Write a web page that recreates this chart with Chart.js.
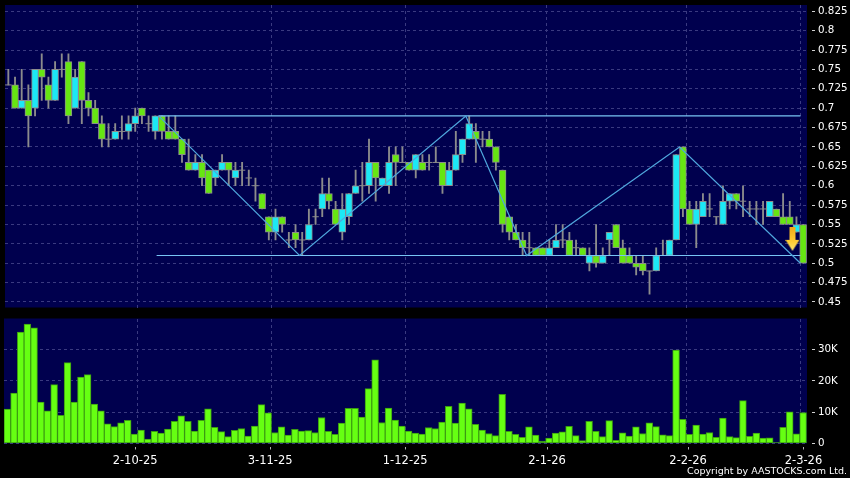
<!DOCTYPE html>
<html>
<head>
<meta charset="utf-8">
<title>AASTOCKS chart</title>
<script src="https://cdn.jsdelivr.net/npm/chart.js@4/dist/chart.umd.min.js"></script>
<style>
  html, body { margin: 0; padding: 0; background: #000; width: 850px; height: 478px; overflow: hidden; }
  canvas { position: absolute; left: 0; }
  #priceChart { top: 0; }
  #volChart { top: 316px; }
  #copyright { position: absolute; right: 3px; top: 464px; color: #fff; font: 9.5px "DejaVu Sans", sans-serif; line-height: 13px; white-space: nowrap; }
</style>
</head>
<body>
<canvas id="priceChart" width="850" height="316"></canvas>
<canvas id="volChart" width="850" height="162"></canvas>
<div id="copyright">Copyright by AASTOCKS.com Ltd.</div>
<script>
// values, one entry per trading day
const opens = [
  .73,.73,.70,.71,.70,.75,.73,.71,.75,.76,.70,.76,.71,.70,.68,.66,.66,.67,.67,.68,
  .70,.68,.67,.69,.67,.67,.66,.63,.62,.63,.62,.61,.62,.63,.61,.62,.61,.60,.59,.56,
  .54,.56,.53,.54,.53,.53,.56,.57,.59,.57,.54,.56,.59,.60,.60,.63,.60,.60,.64,.63,
  .63,.62,.63,.63,.63,.63,.60,.62,.64,.66,.67,.66,.66,.65,.62,.56,.54,.53,.52,.52,
  .52,.51,.52,.53,.53,.52,.52,.50,.51,.50,.53,.55,.52,.51,.50,.50,.49,.49,.51,.51,
  .53,.65,.57,.55,.56,.57,.56,.55,.58,.59,.58,.57,.57,.57,.56,.57,.56,.56,.54,.55
];
const highs = [
  .75,.74,.75,.73,.75,.77,.74,.76,.77,.77,.75,.76,.72,.71,.69,.68,.68,.69,.69,.70,
  .70,.69,.69,.69,.69,.69,.66,.66,.64,.64,.62,.62,.64,.63,.63,.63,.62,.61,.59,.56,
  .57,.56,.54,.55,.54,.57,.57,.61,.61,.58,.59,.59,.62,.63,.66,.63,.61,.65,.65,.65,
  .63,.64,.64,.64,.65,.63,.63,.67,.66,.69,.68,.67,.67,.65,.62,.56,.55,.54,.54,.52,
  .52,.53,.55,.55,.54,.53,.52,.52,.55,.52,.54,.55,.53,.52,.51,.51,.49,.52,.53,.53,
  .64,.65,.58,.58,.59,.59,.56,.60,.59,.59,.60,.58,.58,.58,.58,.57,.59,.58,.56,.55
];
const lows = [
  .73,.70,.70,.65,.69,.71,.70,.71,.74,.68,.70,.68,.69,.68,.65,.65,.66,.66,.66,.67,
  .68,.67,.66,.66,.66,.66,.63,.62,.62,.60,.59,.60,.62,.60,.60,.60,.60,.58,.57,.53,
  .53,.54,.52,.52,.51,.53,.55,.56,.57,.55,.53,.55,.59,.58,.59,.58,.60,.59,.60,.63,
  .62,.61,.62,.62,.63,.59,.60,.62,.63,.66,.63,.65,.65,.62,.54,.53,.53,.51,.51,.51,
  .51,.51,.52,.52,.51,.51,.51,.49,.495,.50,.51,.52,.50,.50,.485,.485,.46,.49,.51,.51,
  .53,.56,.55,.52,.56,.56,.55,.55,.57,.57,.56,.56,.55,.55,.56,.56,.55,.55,.54,.50
];
const closes = [
  .73,.70,.71,.69,.75,.74,.71,.75,.75,.69,.74,.71,.70,.68,.66,.66,.67,.67,.68,.69,
  .69,.68,.69,.67,.66,.66,.64,.62,.63,.61,.59,.62,.63,.62,.62,.62,.61,.60,.57,.54,
  .56,.55,.53,.53,.53,.55,.56,.59,.58,.55,.57,.59,.60,.60,.63,.61,.61,.63,.63,.63,
  .62,.64,.62,.63,.63,.60,.62,.64,.66,.68,.66,.66,.65,.63,.55,.54,.53,.52,.52,.51,
  .51,.52,.53,.53,.51,.52,.51,.51,.50,.51,.54,.52,.50,.50,.495,.49,.49,.51,.51,.53,
  .64,.57,.55,.57,.58,.57,.56,.58,.59,.58,.58,.57,.57,.57,.58,.56,.55,.55,.55,.50
];
const volumes = [
  11000,16100,35600,38100,36900,13200,10400,18800,9000,25800,13200,21200,22000,12600,10400,6300,5400,6600,7400,3000,
  4300,1400,3900,3300,4600,7100,8800,7100,4000,7400,11100,5200,3800,2200,4200,4800,2400,5600,12400,9800,
  3500,5300,2700,4500,4000,4100,3500,8300,3900,2900,6500,11200,11200,8400,17500,26700,6700,11300,7500,5600,
  4000,3300,3000,5100,4800,6800,11900,6500,12900,11100,6100,4300,3200,2500,15700,3900,2900,2000,5300,2700,
  800,1700,3300,3700,5500,2500,900,7100,3900,2200,7300,1000,3400,2400,5300,3200,6600,5400,2800,2500,
  29800,7700,2900,5900,3000,3500,2000,8100,2200,1900,13700,2300,3300,1700,1800,300,5200,10100,3100,9900
];

const tickLabels = ["2-10-25", "3-11-25", "1-12-25", "2-1-26", "2-2-26", "2-3-26"];
const tickDays = [19.1, 39.3, 59.5, 80.7, 101.8, 119.05];
const gridDays = [19.4, 39.45, 59.5, 80.6, 101.6, 118.6];
const priceTicks = [.45,.475,.5,.525,.55,.575,.6,.625,.65,.675,.7,.725,.75,.775,.8,.825];
const volTicks = [0, 10000, 20000, 30000];

// trend lines drawn on the chart, as [day, price]
const zigzag = [[22.5,.69],[43.6,.51],[68.5,.69],[77.6,.51],[100.5,.65],[118.6,.50]];
const topLine = [[22.5,.69],[118.6,.69]];
const bottomLine = [[22.2,.51],[118.6,.51]];
const arrowAt = [117.4, .5315];

const UP = "#1ce8f5", DOWN = "#66e612", EDGE = "#8c8c8c";
const NAVY = "#00004e", GRID = "#3a3a80";
const FONT = '"DejaVu Sans", sans-serif';
const days = closes.map((_, i) => i);

// navy panel behind the plot area
const panelBg = {
  id: "panelBg",
  beforeDraw(chart) {
    const { ctx, chartArea: a } = chart;
    ctx.fillStyle = NAVY;
    ctx.fillRect(a.left, a.top, a.right - a.left, a.bottom - a.top);
  },
};

function xy(pairs) {
  return pairs.map((p) => ({ x: p[0], y: p[1] }));
}

function makeArrow() {
  const c = document.createElement("canvas");
  c.width = 14;
  c.height = 24;
  const g = c.getContext("2d");
  const grad = g.createLinearGradient(0, 0, 0, 24);
  grad.addColorStop(0, "#f0a818");
  grad.addColorStop(0.6, "#ffcc33");
  grad.addColorStop(1, "#ffe870");
  g.fillStyle = grad;
  g.beginPath();
  g.moveTo(4, 0); g.lineTo(10, 0); g.lineTo(10, 13); g.lineTo(14, 13);
  g.lineTo(7, 24); g.lineTo(0, 13); g.lineTo(4, 13);
  g.closePath();
  g.fill();
  return c;
}

const solid = days.filter((i) => opens[i] !== closes[i]);
const flat = days.filter((i) => opens[i] === closes[i]);

// tick labels must not push the plot area in
function noLabelPadding(scale) {
  scale.paddingTop = 0;
  scale.paddingBottom = 0;
  scale.paddingLeft = 0;
  scale.paddingRight = 0;
}

function dayAxis(extra) {
  return Object.assign({
    type: "linear",
    min: -0.5,
    max: 119.58,
    offset: false,
    border: { display: false, dash: [3, 3] },
  }, extra);
}

function fixedTicks(list) {
  return (scale) => { scale.ticks = list.map((v) => ({ value: v })); };
}

// y axis on the right, width fixed so both panels line up
function rightAxis(extra) {
  return Object.assign({
    position: "right",
    border: { display: false, dash: [3, 3] },
    afterFit: (scale) => {
      scale.width = 43;
      noLabelPadding(scale);
    },
    grid: {
      color: GRID,
      lineWidth: 1,
      tickColor: "#d0d0d0",
      tickLength: 8,
      tickBorderDash: [0, 5, 3, 100],
    },
  }, extra);
}

const dashedGrid = {
  color: GRID,
  lineWidth: 1,
  offset: false,
  drawTicks: false,
};

new Chart(document.getElementById("priceChart"), {
  type: "bar",
  data: {
    datasets: [
      {
        type: "scatter",
        data: xy([arrowAt]),
        pointStyle: makeArrow(),
        order: 0,
      },
      {
        type: "line",
        data: xy(zigzag),
        borderColor: "#4fa6dc",
        borderWidth: 1.2,
        pointRadius: 0,
        tension: 0,
        order: 1,
      },
      {
        type: "line",
        data: xy(topLine),
        borderColor: "#78c4f4",
        borderWidth: 1.2,
        pointRadius: 0,
        order: 2,
      },
      {
        type: "line",
        data: xy(bottomLine),
        borderColor: "#78c4f4",
        borderWidth: 1.2,
        pointRadius: 0,
        order: 3,
      },
      {
        // open equals close: just a flat dash
        type: "scatter",
        data: flat.map((i) => ({ x: i, y: closes[i] })),
        pointStyle: "line",
        pointRadius: 3.2,
        borderColor: EDGE,
        borderWidth: 1,
        order: 4,
      },
      {
        data: solid.map((i) => ({ x: i, y: [opens[i], closes[i]] })),
        backgroundColor: solid.map((i) => (closes[i] > opens[i] ? UP : DOWN)),
        borderColor: EDGE,
        borderWidth: 1,
        borderSkipped: false,
        barThickness: 6.9,
        grouped: false,
        order: 5,
      },
      {
        data: days.map((i) => ({ x: i, y: [lows[i], highs[i]] })),
        backgroundColor: EDGE,
        borderWidth: 0,
        barThickness: 1.2,
        grouped: false,
        order: 6,
      },
    ],
  },
  options: {
    responsive: false,
    animation: false,
    layout: { padding: { left: 4, top: 5, bottom: 8.5, right: 0 } },
    plugins: { legend: { display: false }, tooltip: { enabled: false } },
    scales: {
      x: dayAxis({
        afterBuildTicks: fixedTicks(gridDays),
        afterFit: noLabelPadding,
        ticks: { display: false },
        grid: dashedGrid,
      }),
      y: rightAxis({
        min: 0.4429,
        max: 0.8331,
        afterBuildTicks: fixedTicks(priceTicks),
        ticks: {
          color: "#fff",
          padding: 3,
          font: { family: FONT, size: 10.3 },
          callback: (v) => String(+v.toFixed(3)),
        },
      }),
    },
  },
  plugins: [panelBg],
});

new Chart(document.getElementById("volChart"), {
  type: "bar",
  data: {
    datasets: [
      {
        data: days.map((i) => ({ x: i, y: volumes[i] })),
        backgroundColor: "#66ff12",
        borderColor: "#3c9c12",
        borderWidth: 1,
        borderSkipped: false,
        barThickness: 6.8,
      },
    ],
  },
  options: {
    responsive: false,
    animation: false,
    layout: { padding: { left: 4, top: 2.5, bottom: 0, right: 0 } },
    plugins: { legend: { display: false }, tooltip: { enabled: false } },
    scales: {
      x: dayAxis({
        afterBuildTicks: fixedTicks(tickDays),
        afterFit: (scale) => {
          scale.height = 34.5;
          noLabelPadding(scale);
        },
        grid: {
          drawOnChartArea: false,
          offset: false,
          tickColor: "#b0b0b0",
          tickLength: 6,
          tickBorderDash: [0, 3, 3, 100],
        },
        ticks: {
          color: "#fff",
          padding: 5,
          maxRotation: 0,
          autoSkip: false,
          font: { family: FONT, size: 11.5 },
          callback: (v) => tickLabels[tickDays.indexOf(v)],
        },
      }),
      xg: dayAxis({
        axis: "x",
        position: "top",
        afterBuildTicks: fixedTicks(gridDays),
        afterFit: noLabelPadding,
        ticks: { display: false },
        grid: dashedGrid,
      }),
      y: rightAxis({
        min: 0,
        max: 39900,
        afterBuildTicks: fixedTicks(volTicks),
        ticks: {
          color: "#fff",
          padding: 3,
          font: { family: FONT, size: 10.3 },
          callback: (v) => (v === 0 ? "0" : v / 1000 + "K"),
        },
      }),
    },
  },
  plugins: [panelBg],
});
</script>
</body>
</html>
